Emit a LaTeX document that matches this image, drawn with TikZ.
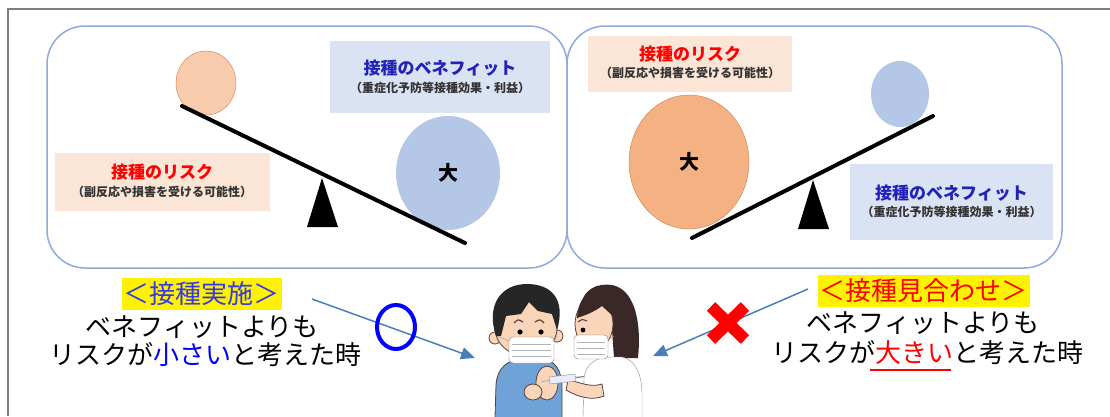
\documentclass[tikz,border=0pt]{standalone}
\usepackage{fontspec}
\setmainfont{Noto Sans CJK JP}
\usetikzlibrary{shapes.geometric,shapes.misc,arrows.meta}
\definecolor{frameline}{HTML}{7F7F7F}
\definecolor{panelline}{HTML}{8FAADC}
\definecolor{benefitbg}{HTML}{DAE3F3}
\definecolor{riskbg}{HTML}{FBE5D6}
\definecolor{benefitblue}{HTML}{2222BB}
\definecolor{ballblue}{HTML}{B4C7E7}
\definecolor{ballpeach}{HTML}{F8CBAD}
\definecolor{ballorange}{HTML}{F4B183}
\definecolor{balledge}{HTML}{C9804F}
\definecolor{arrowblue}{HTML}{4A7EBB}
\definecolor{headblue}{HTML}{3737E8}
\definecolor{skin}{HTML}{F9D5B9}
\definecolor{shirt}{HTML}{6FA3D8}
\definecolor{hairbrown}{HTML}{3A2828}
\definecolor{inkline}{HTML}{5A4038}

\begin{document}
\begin{tikzpicture}
  [x=1pt,y=-1pt,every node/.style={inner sep=0pt}]
  \tikzstyle{panel} = [draw=panelline,line width=1.5pt,rounded corners=38pt]
  \tikzstyle{benefitbox} = [fill=benefitbg]
  \tikzstyle{riskbox} = [fill=riskbg]
  \tikzstyle{headtitle} = [font=\fontsize{17}{20}\selectfont\bfseries]
  \tikzstyle{subtitle} = [font=\fontsize{12}{14}\selectfont\bfseries,text=black!80]
  \tikzstyle{beam} = [line width=4pt,line cap=round]
  \tikzstyle{flag} = [fill=yellow,inner xsep=2pt,minimum height=32pt,font=\fontsize{26}{28}\selectfont]
  \tikzstyle{say} = [font=\fontsize{26}{28}\selectfont]
  \tikzstyle{pointer} = [draw=arrowblue,line width=1.5pt,-{Triangle[length=14pt,width=12pt]}]
  \tikzstyle{ink} = [draw=inkline,line width=0.8pt]
  \useasboundingbox (0,0) rectangle (1110,416);
  \draw[frameline,line width=2pt] (1110,9) -- (8,9) -- (8,416);

  % two seesaw panels
  \draw[panel] (47,26) rectangle (567,268);
  \draw[panel] (567,26) rectangle (1062,268);

  % left: small risk, big benefit
  \node[benefitbox,minimum width=220pt,minimum height=72pt] (benL) at (440,77) {};
  \node[headtitle,text=benefitblue] (benLt) at (440,68) {接種のベネフィット};
  \node[subtitle] (benLs) at (440,88) {（重症化予防等接種効果・利益）};
  \node[riskbox,minimum width=215pt,minimum height=58pt] (riskL) at (162,182) {};
  \node[headtitle,text=red] (riskLt) at (162,172) {接種のリスク};
  \node[subtitle] (riskLs) at (162,192) {（副反応や損害を受ける可能性）};
  \node[ellipse,fill=ballpeach,draw=balledge,minimum width=60pt,minimum height=64pt] (riskLball) at (206,83) {};
  \node[ellipse,fill=ballblue,minimum width=104pt,minimum height=114pt,font=\fontsize{20}{20}\selectfont\bfseries] (benLball) at (448,173) {大};
  \coordinate (beamL1) at (182,106);
  \coordinate (beamL2) at (465,243);

  % right: big risk, small benefit
  \node[riskbox,minimum width=204pt,minimum height=56pt] (riskR) at (690,64) {};
  \node[headtitle,text=red] (riskRt) at (690,54) {接種のリスク};
  \node[subtitle] (riskRs) at (690,73) {（副反応や損害を受ける可能性）};
  \node[benefitbox,minimum width=203pt,minimum height=76pt] (benR) at (951.5,202) {};
  \node[headtitle,text=benefitblue] (benRt) at (951.5,193) {接種のベネフィット};
  \node[subtitle] (benRs) at (951.5,212) {（重症化予防等接種効果・利益）};
  \node[ellipse,fill=ballorange,draw=balledge,minimum width=120pt,minimum height=134pt,font=\fontsize{20}{20}\selectfont\bfseries] (riskRball) at (689,162) {大};
  \node[ellipse,fill=ballblue,minimum width=58pt,minimum height=66pt] (benRball) at (900,94) {};
  \coordinate (beamR1) at (692,238);
  \coordinate (beamR2) at (933,116);

\foreach \a/\b in {beamL1/beamL2,beamR1/beamR2}
   \draw[beam] (\a) -- (\b);
\foreach \x/\y in {322/178,813/180}
   \fill (\x,\y) -- ++(-15,49) -- ++(31,0) -- cycle;

  % captions under the panels
  \node[flag,text=headblue] (doL) at (201.5,294) {＜接種実施＞};
  \node[say] (doL1) at (202,327) {ベネフィットよりも};
  \node[say] (doL2) at (205,355) {リスクが\textcolor{blue}{小さい}と考えた時};
  \node[flag,text=red] (holdR) at (923.5,290.5) {＜接種見合わせ＞};
  \node[say] (holdR1) at (923,323) {ベネフィットよりも};
  \node[say] (holdR2) at (927,353) {リスクが\textcolor{red}{大きい}と考えた時};
  \draw[red,line width=2pt] (870,370) -- (951,370);

  \coordinate (goL) at (312,299);
  \coordinate (shotL) at (475,358);
  \coordinate (goR) at (808,289);
  \coordinate (shotR) at (653,356);
  \draw[pointer] (goL) -- (shotL);
  \draw[pointer] (goR) -- (shotR);
  \node[ellipse,draw=blue,line width=4pt,minimum width=38pt,minimum height=44pt] (okmark) at (396,327) {};
  \node[cross out,draw=red,line width=12pt,minimum width=22pt,minimum height=21pt] (ngmark) at (728,323) {};

  % boy getting the shot
  \filldraw[fill=shirt,ink] (495,417) -- (496,385) .. controls (497,368) and (507,360) .. (522,359) -- (542,359) .. controls (555,360) and (562,370) .. (562,388) -- (562,417);
  \filldraw[fill=skin,ink] (547,383) ellipse (11 and 17);
  \fill[skin] (517,350) rectangle (536,361);
  \filldraw[fill=skin,ink] (495,338) circle (6);
  \filldraw[fill=skin,ink] (557,336) circle (6);
  \filldraw[fill=skin,ink] (526,328) ellipse (31 and 28);
  \fill[black!85] (496,336) .. controls (486,306) and (500,284) .. (527,284) .. controls (552,284) and (566,300) .. (557,330) -- (552,314) -- (538,311) -- (529,302) -- (521,314) -- (506,316) -- (501,336) -- cycle;
  \draw[ink,line width=1.2pt] (514,323) .. controls (518,319) .. (523,322);
  \draw[ink,line width=1.2pt] (535,322) .. controls (540,319) .. (544,323);
  \fill (520,332) circle (2.6);
  \fill (541,332) circle (2.6);
  \draw[black!40] (509,341) -- (497,336);
  \draw[black!40] (554,341) -- (557,336);
  \filldraw[fill=white,draw=black!50,rounded corners=4pt] (509,337) rectangle (554,363);
\foreach \y in {344,350,356}
   \draw[black!30] (512,\y) -- (551,\y);

  % nurse with the syringe
  \fill[hairbrown] (580,310) .. controls (582,288) and (598,283) .. (612,285) .. controls (633,289) and (642,318) .. (638,358) -- (614,358) -- (612,330) -- cycle;
  \filldraw[fill=white,draw=black!45] (583,417) -- (584,378) .. controls (586,362) and (598,357) .. (612,357) -- (622,357) .. controls (636,360) and (642,375) .. (642,395) -- (642,417);
  \filldraw[fill=skin,ink] (594,324) ellipse (19 and 25);
  \fill[hairbrown] (577,318) .. controls (578,296) and (592,287) .. (606,288) .. controls (615,290) and (618,300) .. (615,318) -- (602,306) .. controls (594,312) and (586,315) .. (577,318) -- cycle;
  \draw[ink,line width=1.1pt] (578,322) .. controls (582,319) .. (587,321);
  \fill (583,330) circle (2.4);
  \draw[black!40] (608,340) -- (614,336);
  \filldraw[fill=white,draw=black!50,rounded corners=4pt] (574,335) rectangle (608,359);
\foreach \y in {342,348,354}
   \draw[black!30] (577,\y) -- (605,\y);
  \filldraw[fill=skin,ink] (533,392) ellipse (9 and 8);
  \filldraw[fill=skin,ink] (602,384) .. controls (590,388) and (580,382) .. (568,380) -- (566,390) .. controls (578,397) and (592,401) .. (604,396) -- cycle;
  \filldraw[fill=blue!8,draw=black!45] (549,377) -- (575,374) -- (576,381) -- (550,384) -- cycle;
  \draw[black!50] (549,380.5) -- (542,381.5);
  \draw[black!50,line width=1.2pt] (576,377.5) -- (584,376.5);
\end{tikzpicture}
\end{document}
